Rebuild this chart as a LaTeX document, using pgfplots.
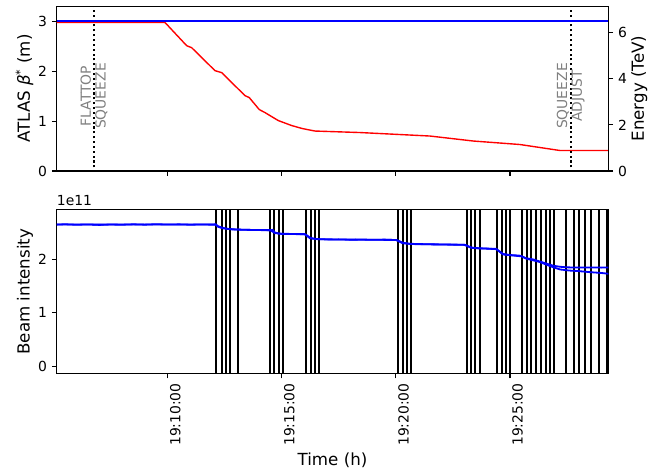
\documentclass[border=0pt]{standalone}
\usepackage{fontspec}
\setmainfont{DejaVu Sans}
\usepackage{pgfplots}
\pgfplotsset{compat=1.18}

\pgfplotsset{
  mpl/.style={
    scale only axis, width=397.2pt,
    xmin=5.136, xmax=29.31,
    tick align=outside, major tick length=3.5pt,
    every tick/.style={black, line width=0.8pt},
    axis line style={line width=0.8pt},
    tick label style={font=\fontsize{10}{12}\selectfont},
    label style={font=\fontsize{12}{14}\selectfont},
    /pgf/number format/assume math mode=true,
    xtick={10,15,20,25},
  },
}
\tikzset{phase/.style={gray, rotate=90, align=center, inner sep=0pt,
    font=\fontsize{10}{10.6}\selectfont}}

\begin{document}
\begin{tikzpicture}
\useasboundingbox (-40.8pt,-336.06pt) rectangle (441.6pt,4.5pt);

% top panel: beta* (left axis)
\begin{axis}[mpl, at={(0,0)}, anchor=north west, height=118.6pt,
  ymin=0, ymax=3.3, ytick={0,1,2,3}, xticklabels={},
  xtick pos=left, ytick pos=left,
  ylabel={ATLAS \textit{β}\textsuperscript{*} (m)},
  ylabel style={at={(axis description cs:-0.0584,0.5)}, anchor=center}]
\addplot[red, line width=1pt] coordinates {
  (5.136,2.975) (9.882,2.975) (10.833,2.51) (11.052,2.47) (12.073,2.01)
  (12.366,1.97) (13.387,1.51) (13.576,1.47) (14.014,1.23) (14.264,1.17)
  (14.847,1.01) (15.434,0.91) (15.9,0.85) (16.455,0.80) (17.112,0.79)
  (18.427,0.77) (21.494,0.70) (23.392,0.60) (25.438,0.53) (26.021,0.49)
  (27.191,0.41) (29.31,0.41)};
\addplot[black, line width=1.5pt, dash pattern=on 1.5pt off 2pt] coordinates {(6.77,-1) (6.77,5)};
\addplot[black, line width=1.5pt, dash pattern=on 1.5pt off 2pt] coordinates {(27.66,-1) (27.66,5)};
\node[phase] at (axis cs:6.77,1.5) {FLATTOP\\SQUEEZE};
\node[phase] at (axis cs:27.66,1.5) {SQUEEZE\\ADJUST};
\end{axis}

% top panel: energy (right axis)
\begin{axis}[mpl, at={(0,0)}, anchor=north west, height=118.6pt,
  ymin=0, ymax=7.15, ytick={0,2,4,6},
  axis y line*=right, axis x line=none, ytick pos=right,
  ylabel={Energy (TeV)},
  ylabel style={at={(axis description cs:1.056,0.5)}, anchor=center}]
\addplot[draw=blue, line width=1.1pt] coordinates {(5.136,6.5) (29.31,6.5)};
\end{axis}

% bottom panel: beam intensity
\begin{axis}[mpl, at={(0,-146.4pt)}, anchor=north west, height=118.1pt,
  ymin=-0.136, ymax=2.929, ytick={0,1,2},
  xtick pos=left, ytick pos=left, clip mode=individual,
  xticklabels={19:10:00,19:15:00,19:20:00,19:25:00},
  xticklabel style={rotate=90, anchor=east, yshift=-5.5pt},
  xlabel={Time (h)},
  xlabel style={at={(axis description cs:0.5,-0.528)}, anchor=center},
  ylabel={Beam intensity},
  ylabel style={at={(axis description cs:-0.0575,0.5)}, anchor=center},
  unbounded coords=jump]
\addplot[black, line width=1.5pt] coordinates {
  (12.117,-1) (12.117,4) (12.117,nan) (12.366,-1) (12.366,4) (12.366,nan)
  (12.555,-1) (12.555,4) (12.555,nan) (12.743,-1) (12.743,4) (12.743,nan)
  (13.081,-1) (13.081,4) (13.081,nan)
  (14.483,-1) (14.483,4) (14.483,nan) (14.658,-1) (14.658,4) (14.658,nan)
  (14.864,-1) (14.864,4) (14.864,nan) (15.053,-1) (15.053,4) (15.053,nan)
  (16.061,-1) (16.061,4) (16.061,nan) (16.267,-1) (16.267,4) (16.267,nan)
  (16.455,-1) (16.455,4) (16.455,nan) (16.630,-1) (16.630,4) (16.630,nan)
  (20.092,-1) (20.092,4) (20.092,nan) (20.298,-1) (20.298,4) (20.298,nan)
  (20.473,-1) (20.473,4) (20.473,nan) (20.648,-1) (20.648,4) (20.648,nan)
  (23.103,-1) (23.103,4) (23.103,nan) (23.278,-1) (23.278,4) (23.278,nan)
  (23.480,-1) (23.480,4) (23.480,nan) (23.672,-1) (23.672,4) (23.672,nan)
  (24.417,-1) (24.417,4) (24.417,nan) (24.649,-1) (24.649,4) (24.649,nan)
  (24.838,-1) (24.838,4) (24.838,nan) (25.013,-1) (25.013,4) (25.013,nan)
  (25.539,-1) (25.539,4) (25.539,nan) (25.745,-1) (25.745,4) (25.745,nan)
  (25.933,-1) (25.933,4) (25.933,nan) (26.152,-1) (26.152,4) (26.152,nan)
  (26.371,-1) (26.371,4) (26.371,nan) (26.577,-1) (26.577,4) (26.577,nan)
  (26.753,-1) (26.753,4) (26.753,nan) (26.928,-1) (26.928,4) (26.928,nan)
  (27.454,-1) (27.454,4) (27.454,nan) (27.805,-1) (27.805,4) (27.805,nan)
  (28.037,-1) (28.037,4) (28.037,nan) (28.300,-1) (28.300,4) (28.300,nan)
  (28.563,-1) (28.563,4) (28.563,nan) (28.913,-1) (28.913,4) (28.913,nan)
  (29.264,-1) (29.264,4)};
% beam 1
\addplot[blue, line width=1.3pt] coordinates {
  (5.14,2.648) (5.5,2.655) (6.0,2.645) (6.5,2.652) (7.0,2.643) (7.5,2.650)
  (8.0,2.646) (8.5,2.654) (9.0,2.647) (9.5,2.656) (10.0,2.649) (10.5,2.653)
  (11.0,2.646) (11.5,2.652) (12.0,2.650) (12.1,2.655) (12.2,2.62) (12.4,2.59)
  (12.6,2.57) (12.9,2.56) (13.3,2.552) (13.8,2.548) (14.2,2.545) (14.5,2.54)
  (14.6,2.55) (14.7,2.50) (14.9,2.48) (15.3,2.475) (15.7,2.47) (16.0,2.468)
  (16.1,2.45) (16.25,2.40) (16.5,2.38) (17.0,2.37) (17.5,2.372) (18.0,2.365)
  (18.5,2.37) (19.0,2.364) (19.5,2.368) (20.0,2.36) (20.1,2.35) (20.3,2.31)
  (20.6,2.29) (21.0,2.285) (21.5,2.28) (22.0,2.278) (22.5,2.275) (23.0,2.272)
  (23.1,2.26) (23.3,2.22) (23.6,2.205) (24.0,2.20) (24.4,2.195) (24.5,2.16)
  (24.7,2.10) (25.0,2.08) (25.4,2.07) (25.5,2.06) (25.7,2.02) (26.0,2.00)
  (26.3,1.96) (26.6,1.92) (26.9,1.88) (27.2,1.86) (27.5,1.85) (28.0,1.845)
  (28.5,1.848) (29.0,1.845) (29.31,1.848)};
% beam 2
\addplot[blue, line width=1.3pt] coordinates {
  (5.14,2.652) (6.0,2.650) (7.0,2.648) (8.0,2.651) (9.0,2.649) (10.0,2.652)
  (11.0,2.650) (12.1,2.648) (12.2,2.61) (12.4,2.58) (12.8,2.56) (13.5,2.55)
  (14.5,2.545) (14.7,2.49) (15.0,2.475) (16.0,2.47) (16.25,2.39) (16.6,2.375)
  (18.0,2.368) (20.0,2.362) (20.3,2.30) (20.7,2.285) (23.0,2.27) (23.3,2.215)
  (24.4,2.19) (24.7,2.09) (25.5,2.055) (25.7,2.015) (26.3,1.95) (26.6,1.90)
  (26.9,1.85) (27.2,1.81) (27.6,1.79) (28.0,1.78) (28.5,1.76) (29.0,1.745)
  (29.31,1.73)};
\node[anchor=base west, inner sep=0pt, font=\fontsize{10}{12}\selectfont]
  at ([yshift=3pt]rel axis cs:0,1) {1e11};
\end{axis}
\end{tikzpicture}
\end{document}
